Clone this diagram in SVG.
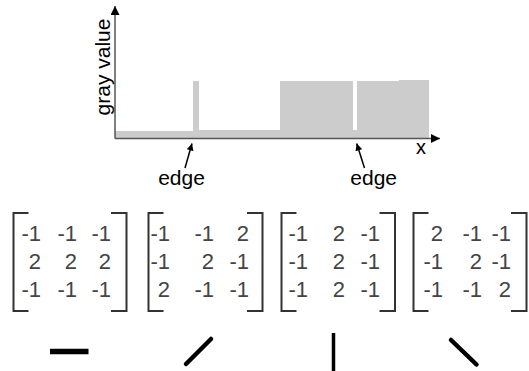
<svg xmlns="http://www.w3.org/2000/svg" width="529" height="371" viewBox="0 0 529 371">
<style>
.lbl{font-family:"Liberation Sans",Arial,sans-serif;fill:#000}
.num{font-family:"Liberation Sans",Arial,sans-serif;font-size:22px;fill:#444;text-anchor:end}
.br{fill:none;stroke:#333;stroke-width:2}
.sym{stroke:#000;fill:none}
</style>
<defs>
<marker id="ah" viewBox="0 0 10 10" refX="10" refY="5" markerWidth="8" markerHeight="7" markerUnits="userSpaceOnUse" orient="auto">
<path d="M0,0 L10,5 L0,10 z" fill="#000"/>
</marker>
<marker id="axh" viewBox="0 0 10 10" refX="10" refY="5" markerWidth="10" markerHeight="9" markerUnits="userSpaceOnUse" orient="auto">
<path d="M0,0 L10,5 L0,10 z" fill="#000"/>
</marker>
</defs>
<g id="plot">
<path d="M115,138.5 V131 H193 V81 H199 V130 H280 V81 H353 V130 H357 V81 H399 V80 H429 V138.5 Z" fill="#cccccc"/>
</g>
<g id="axes">
<line x1="115" y1="138.5" x2="440" y2="138.5" stroke="#555" stroke-width="1.5" marker-end="url(#axh)"/>
<line x1="115" y1="138.5" x2="115" y2="6" stroke="#555" stroke-width="1.5" marker-end="url(#axh)"/>
<text class="lbl" x="0" y="0" font-size="21" text-anchor="middle" transform="translate(109.5,67) rotate(-90)">gray value</text>
<text class="lbl" x="416" y="153.5" font-size="20">x</text>
</g>
<g id="edge1">
<text class="lbl" x="181.5" y="185" font-size="21" text-anchor="middle">edge</text>
</g>
<g id="edge2">
<text class="lbl" x="373.7" y="185" font-size="21" text-anchor="middle">edge</text>
</g>
<g id="connectors">
<line x1="185" y1="168" x2="192" y2="143.5" stroke="#000" stroke-width="1.5" marker-end="url(#ah)"/>
<line x1="364.5" y1="168" x2="356.7" y2="143.5" stroke="#000" stroke-width="1.5" marker-end="url(#ah)"/>
</g>
<g id="matrix1">
<path class="br" d="M28.5,213 H13.5 V311 H28.5"/>
<path class="br" d="M111,213 H126.5 V311 H111"/>
<text class="num" x="41" y="241">-1</text><text class="num" x="77" y="241">-1</text><text class="num" x="111" y="241">-1</text>
<text class="num" x="41" y="269">2</text><text class="num" x="77" y="269">2</text><text class="num" x="111" y="269">2</text>
<text class="num" x="41" y="297">-1</text><text class="num" x="77" y="297">-1</text><text class="num" x="111" y="297">-1</text>
</g>
<g id="matrix2">
<path class="br" d="M163.5,213 H148.5 V311 H163.5"/>
<path class="br" d="M247,213 H262.5 V311 H247"/>
<text class="num" x="170" y="241">-1</text><text class="num" x="214" y="241">-1</text><text class="num" x="249" y="241">2</text>
<text class="num" x="170" y="269">-1</text><text class="num" x="214" y="269">2</text><text class="num" x="249" y="269">-1</text>
<text class="num" x="170" y="297">2</text><text class="num" x="214" y="297">-1</text><text class="num" x="249" y="297">-1</text>
</g>
<g id="matrix3">
<path class="br" d="M296.5,213 H281.5 V311 H296.5"/>
<path class="br" d="M379.5,213 H395 V311 H379.5"/>
<text class="num" x="308" y="241">-1</text><text class="num" x="345" y="241">2</text><text class="num" x="380" y="241">-1</text>
<text class="num" x="308" y="269">-1</text><text class="num" x="345" y="269">2</text><text class="num" x="380" y="269">-1</text>
<text class="num" x="308" y="297">-1</text><text class="num" x="345" y="297">2</text><text class="num" x="380" y="297">-1</text>
</g>
<g id="matrix4">
<path class="br" d="M428.5,213 H413.5 V311 H428.5"/>
<path class="br" d="M511,213 H526.5 V311 H511"/>
<text class="num" x="443" y="241">2</text><text class="num" x="482" y="241">-1</text><text class="num" x="511" y="241">-1</text>
<text class="num" x="443" y="269">-1</text><text class="num" x="482" y="269">2</text><text class="num" x="511" y="269">-1</text>
<text class="num" x="443" y="297">-1</text><text class="num" x="482" y="297">-1</text><text class="num" x="511" y="297">2</text>
</g>
<g id="symbol1"><line class="sym" x1="50" y1="351.5" x2="88.5" y2="351.5" stroke-width="5.5"/></g>
<g id="symbol2"><line class="sym" x1="186" y1="364" x2="211" y2="339" stroke-width="4.5" stroke-linecap="round"/></g>
<g id="symbol3"><line class="sym" x1="333.5" y1="333" x2="333.5" y2="371" stroke-width="3.5"/></g>
<g id="symbol4"><line class="sym" x1="451" y1="340" x2="476.5" y2="364.5" stroke-width="4.5" stroke-linecap="round"/></g>
</svg>
